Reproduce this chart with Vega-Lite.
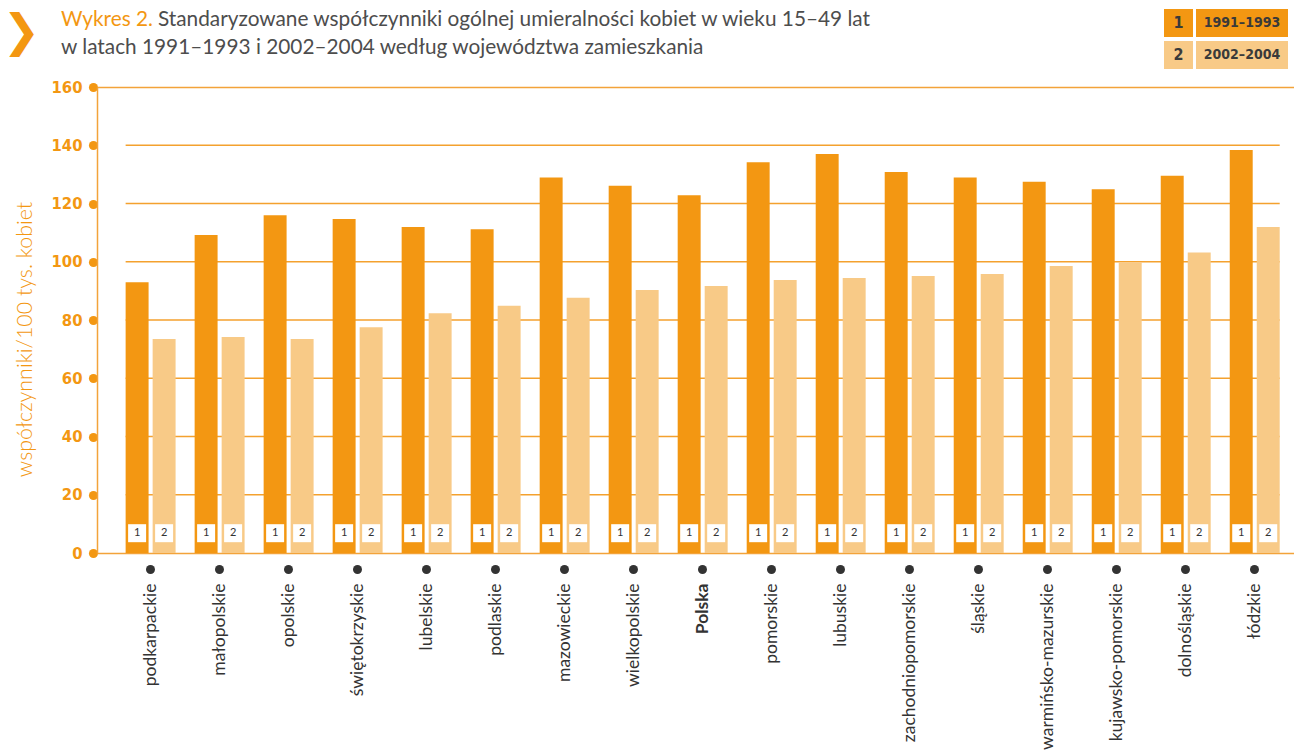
{
  "$schema": "https://vega.github.io/schema/vega-lite/v6.json",
  "padding": {"left": 2, "top": 8, "right": 0, "bottom": 0},
  "config": {
    "view": {"stroke": null},
    "font": "Lato"
  },
  "datasets": {
    "mort": [
      {"region": "podkarpackie", "period": "1991–1993", "nr": "1", "value": 93.0},
      {"region": "podkarpackie", "period": "2002–2004", "nr": "2", "value": 73.5},
      {"region": "małopolskie", "period": "1991–1993", "nr": "1", "value": 109.2},
      {"region": "małopolskie", "period": "2002–2004", "nr": "2", "value": 74.2},
      {"region": "opolskie", "period": "1991–1993", "nr": "1", "value": 116.0},
      {"region": "opolskie", "period": "2002–2004", "nr": "2", "value": 73.5},
      {"region": "świętokrzyskie", "period": "1991–1993", "nr": "1", "value": 114.7},
      {"region": "świętokrzyskie", "period": "2002–2004", "nr": "2", "value": 77.5},
      {"region": "lubelskie", "period": "1991–1993", "nr": "1", "value": 111.9},
      {"region": "lubelskie", "period": "2002–2004", "nr": "2", "value": 82.3},
      {"region": "podlaskie", "period": "1991–1993", "nr": "1", "value": 111.2},
      {"region": "podlaskie", "period": "2002–2004", "nr": "2", "value": 84.9},
      {"region": "mazowieckie", "period": "1991–1993", "nr": "1", "value": 128.9},
      {"region": "mazowieckie", "period": "2002–2004", "nr": "2", "value": 87.6},
      {"region": "wielkopolskie", "period": "1991–1993", "nr": "1", "value": 126.1},
      {"region": "wielkopolskie", "period": "2002–2004", "nr": "2", "value": 90.3},
      {"region": "Polska", "period": "1991–1993", "nr": "1", "value": 122.8},
      {"region": "Polska", "period": "2002–2004", "nr": "2", "value": 91.7},
      {"region": "pomorskie", "period": "1991–1993", "nr": "1", "value": 134.2},
      {"region": "pomorskie", "period": "2002–2004", "nr": "2", "value": 93.7},
      {"region": "lubuskie", "period": "1991–1993", "nr": "1", "value": 137.0},
      {"region": "lubuskie", "period": "2002–2004", "nr": "2", "value": 94.4},
      {"region": "zachodniopomorskie", "period": "1991–1993", "nr": "1", "value": 130.8},
      {"region": "zachodniopomorskie", "period": "2002–2004", "nr": "2", "value": 95.1},
      {"region": "śląskie", "period": "1991–1993", "nr": "1", "value": 128.9},
      {"region": "śląskie", "period": "2002–2004", "nr": "2", "value": 95.8},
      {"region": "warmińsko-mazurskie", "period": "1991–1993", "nr": "1", "value": 127.5},
      {"region": "warmińsko-mazurskie", "period": "2002–2004", "nr": "2", "value": 98.5},
      {"region": "kujawsko-pomorskie", "period": "1991–1993", "nr": "1", "value": 124.9},
      {"region": "kujawsko-pomorskie", "period": "2002–2004", "nr": "2", "value": 99.8},
      {"region": "dolnośląskie", "period": "1991–1993", "nr": "1", "value": 129.5},
      {"region": "dolnośląskie", "period": "2002–2004", "nr": "2", "value": 103.2},
      {"region": "łódzkie", "period": "1991–1993", "nr": "1", "value": 138.4},
      {"region": "łódzkie", "period": "2002–2004", "nr": "2", "value": 111.9}
    ]
  },
  "spacing": 10,
  "vconcat": [
    {
      "spacing": 21,
      "hconcat": [
        {
          "width": 1046,
          "height": 1,
          "title": {
            "text": "Wykres 2.",
            "subtitle": "w latach 1991–1993 i 2002–2004 według województwa zamieszkania",
            "orient": "top",
            "anchor": "start",
            "frame": "group",
            "dx": -36,
            "offset": -51,
            "font": "Lato",
            "fontSize": 20.8,
            "fontWeight": "normal",
            "color": "#F39712",
            "subtitleFont": "Lato",
            "subtitleFontSize": 20.8,
            "subtitleFontWeight": "normal",
            "subtitleColor": "#4d4d4d",
            "subtitlePadding": 7.2
          },
          "data": {"values": [{}]},
          "mark": {"type": "point", "opacity": 0, "size": 0},
          "encoding": {
            "x": {
              "datum": 0,
              "type": "quantitative",
              "scale": {"domain": [0, 1]},
              "axis": {
                "orient": "top",
                "title": "Standaryzowane współczynniki ogólnej umieralności kobiet w wieku 15–49 lat",
                "domain": false,
                "ticks": false,
                "labels": false,
                "grid": false,
                "titleFont": "Lato",
                "titleFontSize": 20.8,
                "titleFontWeight": "normal",
                "titleColor": "#4d4d4d",
                "titleAngle": 0,
                "titleAlign": "left",
                "titleBaseline": "top",
                "titleX": 60.5,
                "titleY": 0.2
              }
            },
            "y": {
              "datum": 0,
              "type": "quantitative",
              "scale": {"domain": [0, 1]},
              "axis": {
                "title": "❯",
                "domain": false,
                "ticks": false,
                "labels": false,
                "grid": false,
                "titleFont": "DejaVu Sans",
                "titleFontSize": 45,
                "titleFontWeight": "normal",
                "titleColor": "#F39712",
                "titleAngle": 0,
                "titleAlign": "left",
                "titleBaseline": "top",
                "titleX": -95,
                "titleY": 0
              }
            }
          }
        },
        {
          "width": 124,
          "height": 60,
          "data": {"name": "mort"},
          "transform": [
            {"aggregate": [{"op": "count", "as": "n"}], "groupby": ["nr", "period"]}
          ],
          "encoding": {
            "y": {
              "field": "period",
              "type": "nominal",
              "scale": {"paddingInner": 0.125, "paddingOuter": 0},
              "axis": null
            }
          },
          "layer": [
            {
              "mark": {"type": "bar"},
              "encoding": {
                "x": {"datum": 0, "type": "quantitative", "scale": {"domain": [0, 124], "nice": false, "zero": false}, "axis": null},
                "x2": {"datum": 29},
                "color": {
                  "field": "period",
                  "type": "nominal",
                  "scale": {"domain": ["1991–1993", "2002–2004"], "range": ["#F39712", "#F8CA87"]},
                  "legend": null
                }
              }
            },
            {
              "mark": {"type": "bar"},
              "encoding": {
                "x": {"datum": 32, "type": "quantitative"},
                "x2": {"datum": 124},
                "color": {"field": "period", "type": "nominal", "legend": null}
              }
            },
            {
              "mark": {"type": "text", "font": "DejaVu Sans Condensed", "fontWeight": "bold", "fontSize": 16, "color": "#3a3a3a", "align": "center", "baseline": "middle"},
              "encoding": {
                "x": {"datum": 14.5, "type": "quantitative"},
                "text": {"field": "nr"}
              }
            },
            {
              "mark": {"type": "text", "font": "DejaVu Sans Condensed", "fontWeight": "bold", "fontSize": 14, "color": "#3a3a3a", "align": "center", "baseline": "middle"},
              "encoding": {
                "x": {"datum": 78, "type": "quantitative"},
                "text": {"field": "period"}
              }
            }
          ]
        }
      ]
    },
    {
      "width": 1197,
      "height": 466,
      "layer": [
        {
          "data": {"values": [{"g": 20}, {"g": 40}, {"g": 60}, {"g": 80}, {"g": 100}, {"g": 120}, {"g": 140}]},
          "mark": {"type": "rule", "color": "#F4A12E", "strokeWidth": 1.3},
          "encoding": {
            "y": {"field": "g", "type": "quantitative", "title": "współczynniki/100 tys. kobiet"},
            "x": {"datum": "podkarpackie", "type": "nominal", "bandPosition": 0, "title": null},
            "x2": {"datum": "łódzkie", "bandPosition": 1}
          }
        },
        {
          "data": {"name": "mort"},
          "mark": {"type": "bar", "y2Offset": -10},
          "encoding": {
            "x": {
              "field": "region",
              "type": "nominal",
              "title": null,
              "scale": {
                "domain": ["podkarpackie", "małopolskie", "opolskie", "świętokrzyskie", "lubelskie", "podlaskie", "mazowieckie", "wielkopolskie", "Polska", "pomorskie", "lubuskie", "zachodniopomorskie", "śląskie", "warmińsko-mazurskie", "kujawsko-pomorskie", "dolnośląskie", "łódzkie"],
                "paddingInner": 0.276,
                "paddingOuter": 0.311,
                "align": 0.667
              },
              "axis": {
                "orient": "bottom",
                "domain": true,
                "domainColor": "#F3A33A",
                "domainWidth": 1.5,
                "ticks": true,
                "tickSize": 17,
                "tickWidth": 9,
                "tickCap": "round",
                "tickDash": [0.1, 100],
                "tickDashOffset": -16,
                "tickColor": "#333333",
                "labelAngle": -90,
                "labelAlign": "right",
                "labelBaseline": "middle",
                "labelPadding": 13,
                "labelFont": "Lato",
                "labelFontSize": 17.5,
                "labelColor": "#333333",
                "labelFontWeight": {"condition": {"test": "datum.value === 'Polska'", "value": "bold"}, "value": "normal"},
                "labelLimit": 400,
                "grid": false
              }
            },
            "xOffset": {
              "field": "period",
              "type": "nominal",
              "scale": {"paddingInner": 0.15, "paddingOuter": 0}
            },
            "y": {
              "field": "value",
              "type": "quantitative",
              "title": "współczynniki/100 tys. kobiet",
              "scale": {"domain": [0, 160], "nice": false, "zero": true},
              "axis": {
                "values": [0, 20, 40, 60, 80, 100, 120, 140, 160],
                "domain": true,
                "domainColor": "#F3A33A",
                "domainWidth": 1.5,
                "ticks": true,
                "tickSize": 5,
                "tickWidth": 9,
                "tickCap": "round",
                "tickDash": [0.1, 100],
                "tickDashOffset": -4,
                "tickColor": "#F39712",
                "labelPadding": 10,
                "labelFont": "DejaVu Sans Condensed",
                "labelFontWeight": "bold",
                "labelFontSize": 16.5,
                "labelColor": "#F39712",
                "labelFlush": false,
                "labelOverlap": false,
                "grid": true,
                "gridColor": {"condition": {"test": "datum.value === 160", "value": "#F3A33A"}, "value": "rgba(0,0,0,0)"},
                "gridWidth": 1.5,
                "titleFont": "Lato",
                "titleFontSize": 21.4,
                "titleFontWeight": 300,
                "titleColor": "#F39712",
                "titlePadding": 15.5,
                "titleY": 252
              }
            },
            "color": {
              "field": "period",
              "type": "nominal",
              "scale": {"domain": ["1991–1993", "2002–2004"], "range": ["#F39712", "#F8CA87"]},
              "legend": null
            }
          }
        },
        {
          "data": {"name": "mort"},
          "mark": {"type": "point", "shape": "square", "filled": true, "fill": "white", "size": 324, "opacity": 1, "strokeWidth": 0},
          "encoding": {
            "x": {"field": "region", "type": "nominal", "title": null},
            "xOffset": {"field": "period", "type": "nominal"},
            "y": {"datum": 6.8, "type": "quantitative", "title": "współczynniki/100 tys. kobiet"}
          }
        },
        {
          "data": {"name": "mort"},
          "mark": {"type": "text", "font": "Lato", "fontSize": 11, "color": "#333333", "align": "center", "baseline": "middle"},
          "encoding": {
            "x": {"field": "region", "type": "nominal", "title": null},
            "xOffset": {"field": "period", "type": "nominal"},
            "y": {"datum": 6.8, "type": "quantitative", "title": "współczynniki/100 tys. kobiet"},
            "text": {"field": "nr"}
          }
        }
      ]
    }
  ]
}
